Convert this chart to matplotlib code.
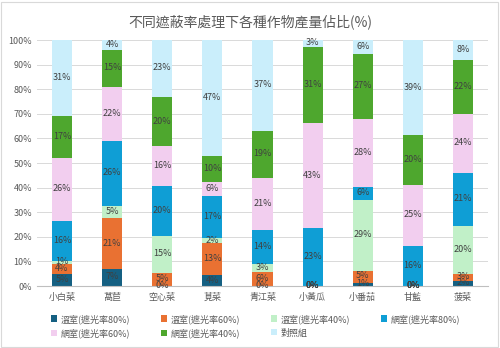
import matplotlib.pyplot as plt
import numpy as np
from matplotlib.patches import Rectangle

plt.rcParams['font.family'] = ['Noto Sans CJK TC', 'DejaVu Sans']

# crops
crops = ['小白菜', '萵苣', '空心菜', '莧菜', '青江菜', '小黃瓜', '小番茄', '甘藍', '菠菜']

# series (share of yield, %)
gh80 = [5.0, 6.8, 0.0, 4.3, 0.0, 0.0, 1.4, 0.0, 2.2]
gh60 = [4.0, 20.7, 5.4, 13.0, 5.6, 0.0, 4.8, 0.0, 2.7]
gh40 = [1.0, 5.1, 15.0, 2.1, 3.4, 0.0, 28.6, 0.0, 19.5]
nh80 = [16.3, 26.2, 20.1, 17.2, 13.9, 23.4, 5.6, 16.3, 21.4]
nh60 = [25.7, 22.1, 16.3, 5.8, 20.9, 42.7, 27.5, 24.8, 24.2]
nh40 = [17.3, 15.0, 19.9, 10.4, 19.3, 30.9, 26.6, 20.1, 21.9]
ctrl = [30.7, 4.1, 23.3, 47.2, 36.9, 3.0, 5.5, 38.8, 8.1]

series = [gh80, gh60, gh40, nh80, nh60, nh40, ctrl]
names = ['溫室(遮光率80%)', '溫室(遮光率60%)', '溫室(遮光率40%)', '網室(遮光率80%)',
         '網室(遮光率60%)', '網室(遮光率40%)', '對照組']
colors = ['#156082', '#E97132', '#C1F0C8', '#0F9ED5', '#F2CEEF', '#4EA72E', '#CAEEFB']

fig = plt.figure(figsize=(5, 3.48), dpi=100)
ax = fig.add_axes([0.074, 0.178, 0.902, 0.707])

x = np.arange(len(crops))
bottom = np.zeros(len(crops))
for vals, name, col in zip(series, names, colors):
    vals = np.array(vals)
    ax.bar(x, vals, 0.4, bottom=bottom, color=col, label=name, zorder=2)
    for xi, b, v in zip(x, bottom, vals):
        ax.text(xi, b + v / 2 + 0.3, f'{v:.0f}%', ha='center', va='center',
                fontsize=6.5, color='#404040', zorder=3)
    bottom += vals

ax.set_xlim(-0.5, len(crops) - 0.5)
ax.set_ylim(0, 100)
ax.set_yticks(np.arange(0, 101, 10))
ax.set_yticklabels([f'{t}%' for t in range(0, 101, 10)])
ax.set_xticks(x)
ax.set_xticklabels(crops)
ax.tick_params(axis='both', length=0, labelsize=6.5, colors='#595959')
ax.tick_params(axis='x', pad=5)
ax.grid(axis='y', color='#d9d9d9', linewidth=0.7, zorder=0)
for s in ['top', 'right', 'left']:
    ax.spines[s].set_visible(False)
ax.spines['bottom'].set_color('#bfbfbf')

fig.suptitle('不同遮蔽率處理下各種作物產量佔比(%)', y=0.96, fontsize=10, color='#595959')

# legend is filled column by column, so reorder to read row by row
h, l = ax.get_legend_handles_labels()
order = [0, 4, 1, 5, 2, 6, 3]
fig.legend([h[i] for i in order], [l[i] for i in order],
           loc='lower left', bbox_to_anchor=(0.085, 0.005), ncol=4, frameon=False,
           fontsize=6.5, handlelength=0.7, handleheight=0.7, handletextpad=0.4,
           columnspacing=3.4, labelcolor='#595959')

fig.patches.append(Rectangle((0.002, 0.003), 0.994, 0.992, transform=fig.transFigure,
                             fill=False, edgecolor='#d9d9d9', linewidth=0.8))

fig.savefig('out.png', dpi=100)
